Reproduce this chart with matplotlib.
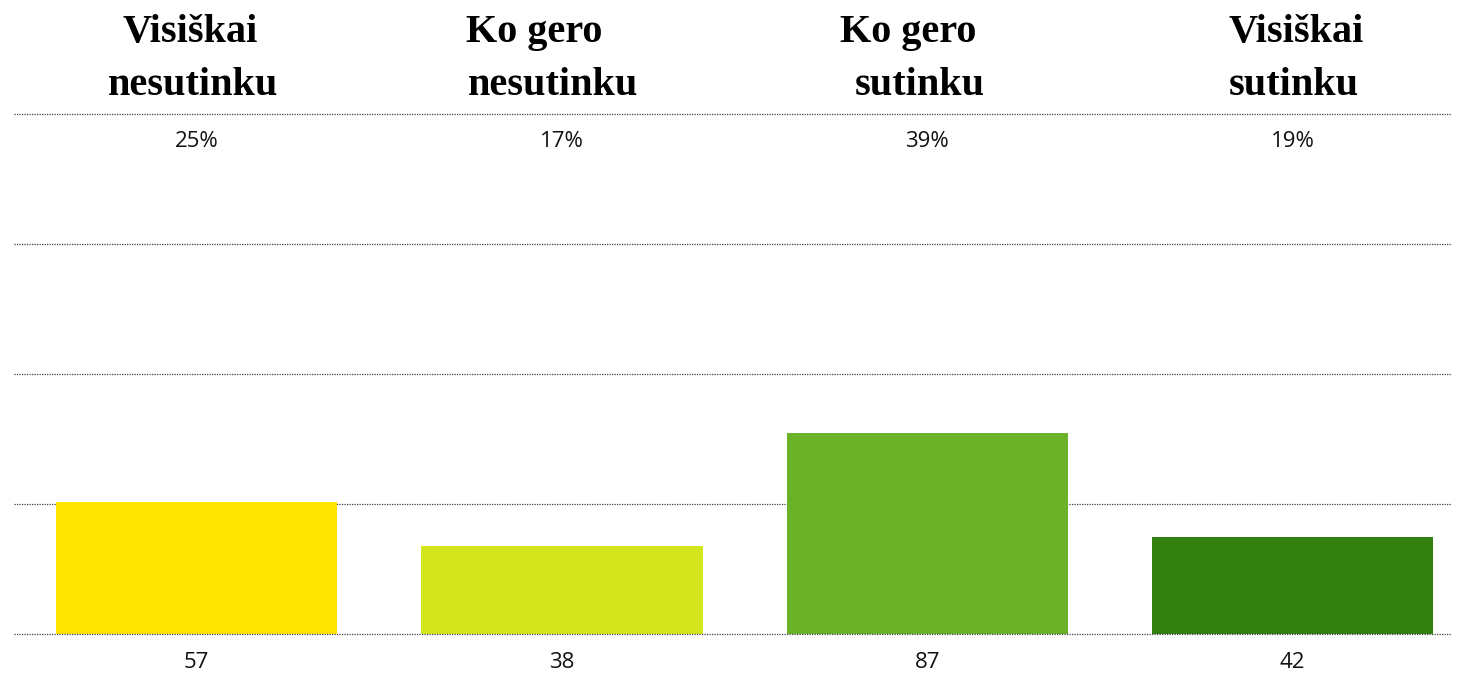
import matplotlib.pyplot as plt
import numpy as np

# answer categories (two-line headers) and response counts
header_top = ["Visiškai", "Ko gero", "Ko gero", "Visiškai"]
header_bottom = ["nesutinku", "nesutinku", "sutinku", "sutinku"]
counts = [57, 38, 87, 42]
bar_colors = ["#FFE400", "#D3E51C", "#6BB229", "#318010"]

total = sum(counts)
shares = [round(100 * c / total) for c in counts]

W, H = 1463, 673
fig = plt.figure(figsize=(W / 100, H / 100), dpi=100)
fig.patch.set_facecolor("white")

# axes area in pixels: x 14..1451, y 114..634
ax = fig.add_axes([14 / W, 39 / H, 1437 / W, 520 / H])
x = np.arange(len(counts))
ax.bar(x, counts, width=0.77, color=bar_colors, zorder=2)
ax.set_xlim(-0.5, 3.434)
ax.set_ylim(0, 225)

for yv in np.linspace(0, 225, 5):
    ax.axhline(yv, color="#404040", linestyle=(0, (1, 1)), linewidth=0.9,
               zorder=3 if yv == 0 else 1, clip_on=False)

for s in ax.spines.values():
    s.set_visible(False)
ax.set_xticks([])
ax.set_yticks([])

label_font = dict(family=["Open Sans", "DejaVu Sans"], fontsize=16, color="#111111")
for xi, c, p in zip(x, counts, shares):
    ax.text(xi, -12.3, str(c), ha="center", va="center", **label_font)
    ax.text(xi, 213.0, f"{p}%", ha="center", va="center", **label_font)

# header lines, centre offsets (in bar units) to follow the original layout
top_shift = [-0.018, -0.077, -0.052, 0.011]
bottom_shift = [-0.010, -0.024, -0.021, 0.004]
head_font = dict(family=["Liberation Serif", "DejaVu Serif"], fontweight="bold",
                 fontsize=29, color="black")
trans = ax.get_xaxis_transform()
for xi, t, b, ts, bs in zip(x, header_top, header_bottom, top_shift, bottom_shift):
    ax.text(xi + ts, 1 + 72 / 520, t, ha="center", va="baseline",
            transform=trans, **head_font)
    ax.text(xi + bs, 1 + 19 / 520, b, ha="center", va="baseline",
            transform=trans, **head_font)

fig.savefig("out.png", dpi=100)
